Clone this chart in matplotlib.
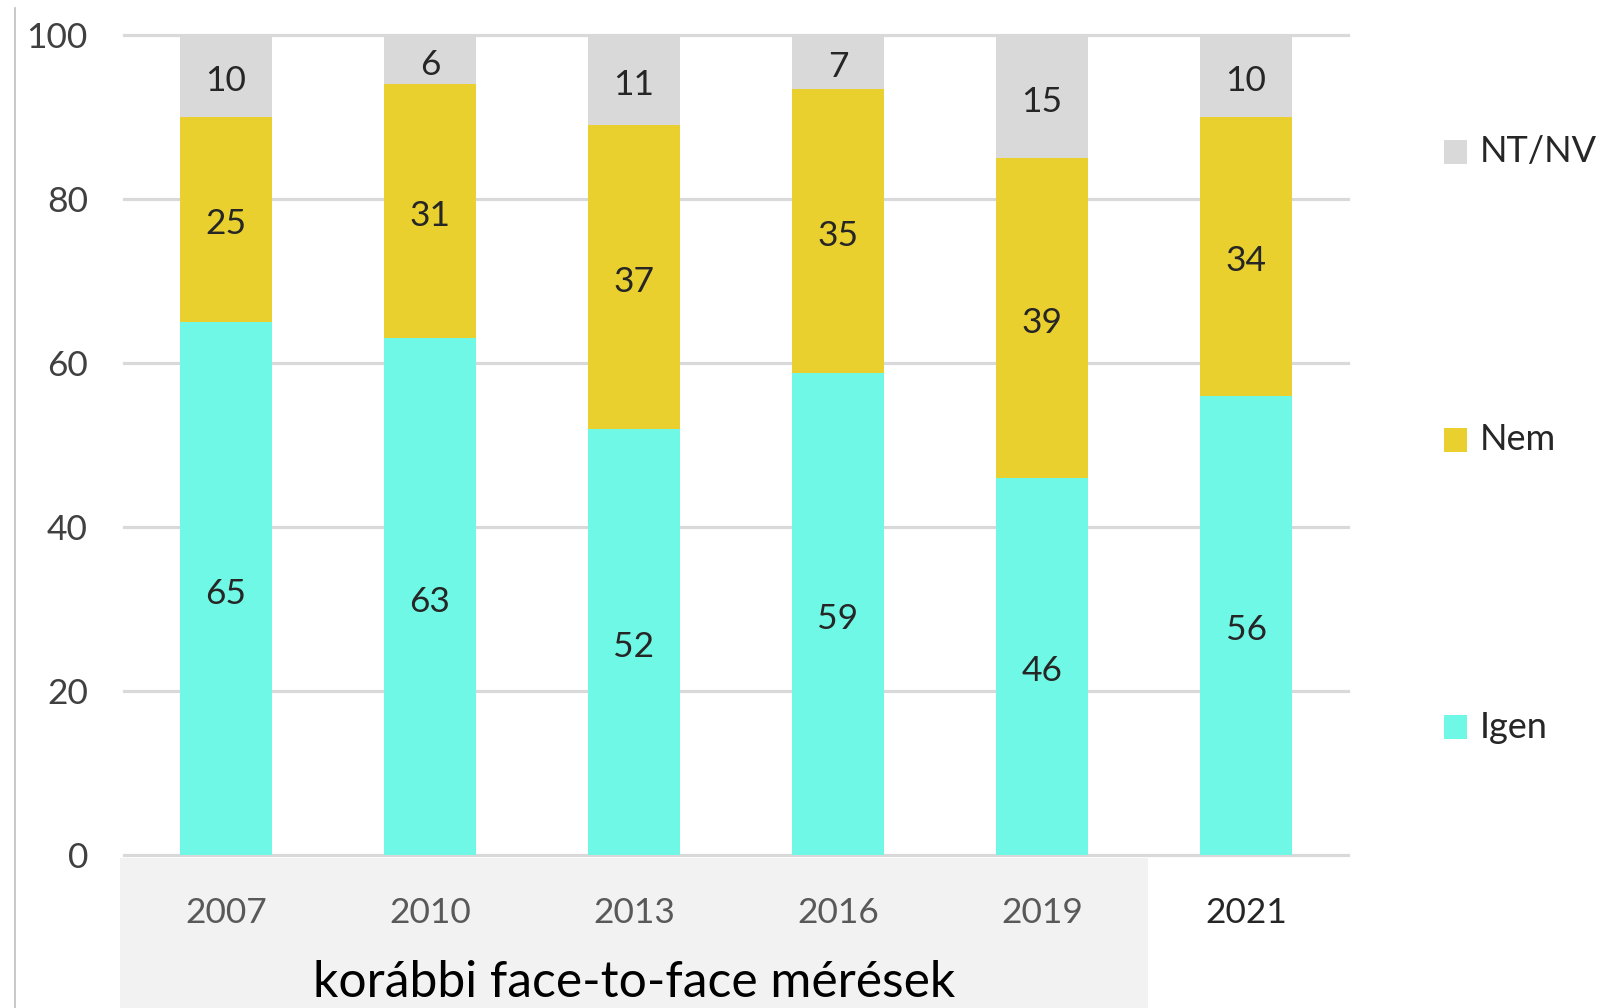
import matplotlib
matplotlib.use("Agg")
import matplotlib.pyplot as plt
from matplotlib.patches import Rectangle
from matplotlib.lines import Line2D
from matplotlib.transforms import blended_transform_factory, offset_copy

plt.rcParams['font.family'] = ['Lato', 'DejaVu Sans']

years = ["2007", "2010", "2013", "2016", "2019", "2021"]
igen = [65, 63, 52, 58.8, 46, 56]
nem = [25, 31, 37, 34.6, 39, 34]
ntnv = [10, 6, 11, 6.6, 15, 10]
series_names = ["Igen", "Nem", "NT/NV"]
group_label = "korábbi face-to-face mérések"
yticks = [0, 20, 40, 60, 80, 100]

colors = {"Igen": "#6ff8e6", "Nem": "#e9d02e", "NT/NV": "#d9d9d9"}

W, H = 1599, 1008
fig = plt.figure(figsize=(W / 100, H / 100), dpi=100)
fig.patch.set_facecolor("white")

def fx(px):
    return px / W

def fy(py):
    return 1 - py / H

ax = fig.add_axes([fx(124), fy(855), fx(1348) - fx(124), fy(35) - fy(855)])
ax.set_xlim(-0.5, len(years) - 0.5)
ax.set_ylim(0, 100)

label_trans = offset_copy(ax.transData, fig=fig, x=0, y=-5, units="dots")
x = list(range(len(years)))
bottoms = [0] * len(years)
for name, vals in zip(series_names, [igen, nem, ntnv]):
    ax.bar(x, vals, width=0.45, bottom=bottoms, color=colors[name], zorder=3, linewidth=0)
    for i, (b, v) in enumerate(zip(bottoms, vals)):
        ax.text(i, b + v / 2, f"{v:.0f}", ha="center", va="center", transform=label_trans,
                fontsize=25.5, color="#262626", zorder=4)
    bottoms = [b + v for b, v in zip(bottoms, vals)]

# grid
ax.set_yticks(yticks)
ax.set_yticklabels([str(t) for t in yticks], fontsize=25.5, color="#404040")
ax.tick_params(axis="y", length=0, pad=26)
for t in yticks:
    ax.axhline(t, color="#d9d9d9", linewidth=2.3, zorder=1, clip_on=False)

for s in ax.spines.values():
    s.set_visible(False)

# x labels
ax.set_xticks(x)
ax.set_xticklabels(years, fontsize=25.5)
ax.tick_params(axis="x", length=0, pad=30)
for i, lab in enumerate(ax.get_xticklabels()):
    lab.set_color("#262626" if i == len(years) - 1 else "#595959")
    lab.set_zorder(5)

# group box
trans = blended_transform_factory(ax.transData, fig.transFigure)
box = Rectangle((-0.52, 0), 5.04, fy(858), transform=trans, facecolor="#f2f2f2",
                edgecolor="none", clip_on=False, zorder=0)
ax.add_artist(box)
ax.text(2.0, fy(983), group_label, transform=trans, ha="center", va="center",
        fontsize=35.8, color="black")

# left vertical line
fig.add_artist(Line2D([fx(14.5), fx(14.5)], [fy(8), 0], color="#bfbfbf", linewidth=1.2,
                      transform=fig.transFigure))

# legend
leg_y = {"NT/NV": 152, "Nem": 440, "Igen": 727}
for name in ["NT/NV", "Nem", "Igen"]:
    cy = leg_y[name]
    fig.add_artist(Rectangle((fx(1444), fy(cy + 12)), fx(23), 24 / H,
                             transform=fig.transFigure, facecolor=colors[name],
                             edgecolor="none"))
    fig.text(fx(1480), fy(cy), name, ha="left", va="center", fontsize=26, color="#262626")

fig.savefig("out.png", dpi=100)
